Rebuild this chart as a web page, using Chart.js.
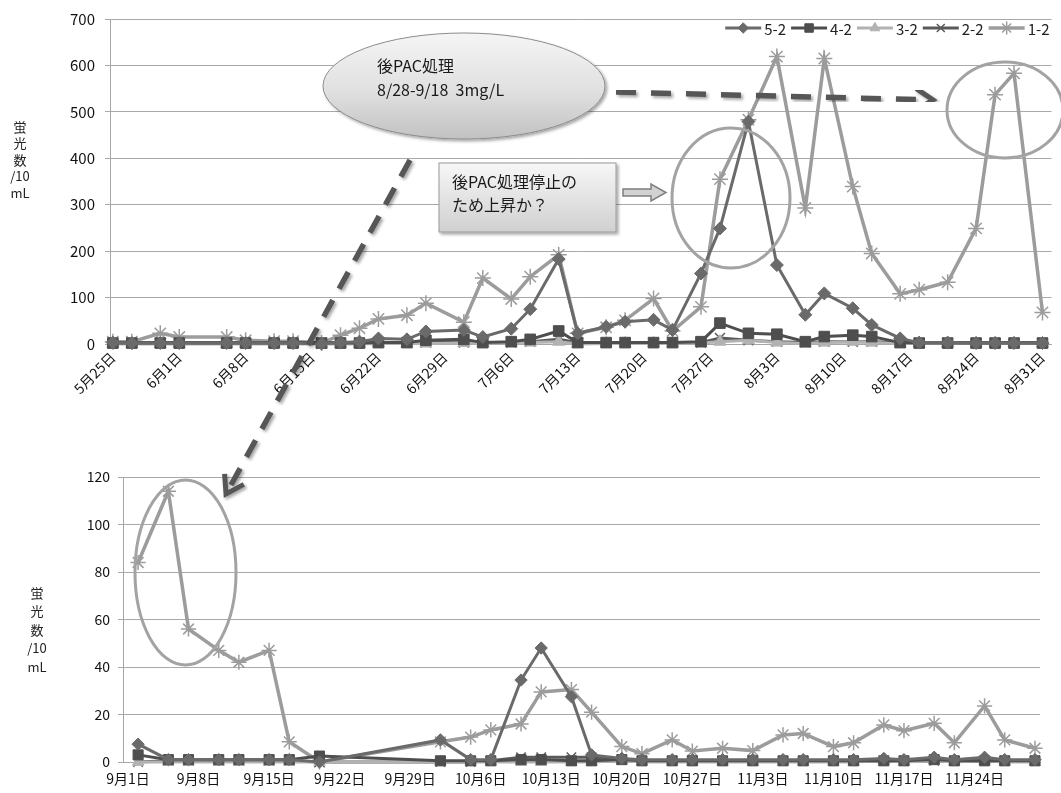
<!DOCTYPE html>
<html>
<head>
<meta charset="utf-8">
<script src="https://cdn.jsdelivr.net/npm/chart.js@4.4.1/dist/chart.umd.min.js"></script>
<style>
  html, body { margin: 0; padding: 0; background: #fff; }
  #page { position: relative; width: 1061px; height: 793px; overflow: hidden; }
  #summer { position: absolute; left: 0; top: 0; }
  #autumn { position: absolute; left: 0; top: 455px; }
  #notes { position: absolute; left: 0; top: 0; width: 1061px; height: 793px; pointer-events: none; }
  #notes text { font-family: "Noto Sans CJK JP", sans-serif; font-size: 16px; fill: #1a1a1a; white-space: pre; }
</style>
</head>
<body>
<div id="page">
  <canvas id="summer" width="1061" height="410"></canvas>
  <canvas id="autumn" width="1061" height="338"></canvas>

  <svg id="notes" viewBox="0 0 1061 793" xmlns="http://www.w3.org/2000/svg">
    <defs>
      <linearGradient id="bubbleFill" x1="0" y1="0" x2="0" y2="1">
        <stop offset="0" stop-color="#f5f5f5"/>
        <stop offset="0.55" stop-color="#e0e0e0"/>
        <stop offset="1" stop-color="#c2c2c2"/>
      </linearGradient>
      <linearGradient id="boxFill" x1="0" y1="0" x2="0" y2="1">
        <stop offset="0" stop-color="#f7f7f7"/>
        <stop offset="1" stop-color="#d0d0d0"/>
      </linearGradient>
      <filter id="shade" x="-20%" y="-20%" width="140%" height="140%">
        <feDropShadow dx="2" dy="2" stdDeviation="1.5" flood-color="#000" flood-opacity="0.35"/>
      </filter>
      <marker id="chevron" viewBox="0 0 26 26" refX="21" refY="13" markerWidth="26" markerHeight="26"
              markerUnits="userSpaceOnUse" orient="auto">
        <polyline points="4,2 21,13 4,24" fill="none" stroke="#575757" stroke-width="5"/>
      </marker>
    </defs>

    <!-- treatment period bubble -->
    <ellipse cx="464" cy="86" rx="141" ry="53" fill="url(#bubbleFill)" stroke="#8c8c8c" stroke-width="1" filter="url(#shade)"/>
    <text x="377" y="72">後PAC処理</text>
    <text x="377" y="96">8/28-9/18  3mg/L</text>

    <!-- dashed pointers from the bubble -->
    <line x1="616" y1="92" x2="933" y2="100" stroke="#575757" stroke-width="5.5" stroke-dasharray="20 15"
          marker-end="url(#chevron)" filter="url(#shade)"/>
    <line x1="410" y1="160" x2="226" y2="494" stroke="#575757" stroke-width="5.5" stroke-dasharray="19 13"
          marker-end="url(#chevron)" filter="url(#shade)"/>

    <!-- note box and block arrow -->
    <rect x="439" y="163" width="177" height="69" fill="url(#boxFill)" stroke="#9a9a9a" stroke-width="1" filter="url(#shade)"/>
    <text x="452" y="188">後PAC処理停止の</text>
    <text x="452" y="211">ため上昇か？</text>
    <polygon points="623,189 651,189 651,184 666,192.5 651,201 651,196 623,196"
             fill="#d2d2d2" stroke="#7f7f7f" stroke-width="1.5"/>

    <!-- highlight rings -->
    <ellipse cx="731" cy="198" rx="59" ry="70" fill="none" stroke="#a3a3a3" stroke-width="3"/>
    <ellipse cx="1005" cy="110" rx="58" ry="48" fill="none" stroke="#a3a3a3" stroke-width="3"/>
    <ellipse cx="185.5" cy="572.5" rx="50.5" ry="92.5" fill="none" stroke="#a3a3a3" stroke-width="3"/>
  </svg>
</div>

<script>
const YEAR = 2015;
const FONT = '"Noto Sans CJK JP", "Noto Sans", sans-serif';

const seriesNames = ['5-2', '4-2', '3-2', '2-2', '1-2'];

// May-August sampling
const summerDates = ['5/25','5/27','5/30','6/1','6/6','6/8','6/11','6/13','6/16','6/18',
                     '6/20','6/22','6/25','6/27','7/1','7/3','7/6','7/8','7/11','7/13',
                     '7/16','7/18','7/21','7/23','7/26','7/28','7/31','8/3','8/6','8/8',
                     '8/11','8/13','8/16','8/18','8/21','8/24','8/26','8/28','8/31'];
const summer52 = [3,2,2,2,2,2,2,2,1,3, 5,12,10,27,30,15,33,75,183,23,
                  37,48,52,30,152,249,479,170,63,109, 77,41,12,3,3,2,2,2,2];
const summer42 = [2,2,2,2,2,2,2,2,2,2, 2,3,3,8,10,3,5,10,28,3,
                  3,3,3,3,5,45,23,21,5,16, 19,16,3,2,2,2,2,2,2];
const summer32 = [0,0,0,0,0,0,0,0,0,0, 0,1,1,1,2,2,2,3,5,0,
                  1,1,1,1,2,5,8,3,1,3, 5,3,1,1,1,1,1,1,1];
const summer22 = [3,3,3,3,3,3,3,3,3,3, 3,3,3,3,3,3,3,5,10,3,
                  3,3,3,3,3,13,8,5,3,5, 5,5,3,3,3,3,3,3,3];
const summer12 = [5,5,23,15,15,8,6,6,2,19, 34,54,62,88,47,142,97,145,192,23,
                  36,51,98,28,80,355,483,619,293,615, 339,195,108,117,133,249,537,583,68];
const summerTicks = ['5/25','6/1','6/8','6/15','6/22','6/29','7/6','7/13',
                     '7/20','7/27','8/3','8/10','8/17','8/24','8/31'];

// September-November sampling
const autumnDates = ['9/2','9/5','9/7','9/10','9/12','9/15','9/17','9/20',
                     '10/2','10/5','10/7','10/10','10/12','10/15','10/17','10/20','10/22','10/25','10/27','10/30',
                     '11/2','11/5','11/7','11/10','11/12','11/15','11/17','11/20','11/22','11/25','11/27','11/30'];
const autumn52 = [7.5,1,1,1,1,1,1,0, 9.3,1,1,34.5,48,27.5,3,1.5,1,1,1,1,
                  1,1,1,1,1,1.5,1,2,1,2,1,1];
const autumn42 = [3,1,1,1,1,1,1,2.5, 0.5,0.5,0.5,1,1,0.5,0.5,1,0.5,0.5,0.5,0.5,
                  0.5,0.5,0.5,0.5,0.5,0.5,0.5,1,0.5,0.5,0.5,0.5];
const autumn32 = [0,0,0,0,0,0,0,0, 0,0,0,0,0,0,0,0.5,0,0,0,0,
                  0,0,0,0,0,0.5,0,0.5,0,0.5,0,0];
const autumn22 = [0,0.5,0.5,0.5,0.5,0.5,0.5,0, 0,0,0.5,2,2,2,2,1,0.5,0.5,0.5,0.5,
                  0.5,0.5,0.5,0.5,0.5,0.5,0.5,0.5,0.5,0.5,0.5,0.5];
const autumn12 = [84,114,56,47,42,47,8.5,0, 8.5,10.5,13.5,16,29.5,30.5,21,6.5,3.5,9.3,4.6,5.8,
                  4.8,11.4,12,6.5,8.1,15.6,13.2,16.3,8.1,23.6,9.3,5.8];
const autumnTicks = ['9/1','9/8','9/15','9/22','9/29','10/6','10/13','10/20',
                     '10/27','11/3','11/10','11/17','11/24'];

const yTitle = ['蛍', '光', '数', '/10', 'mL'];

// line and marker look for each series, same order as seriesNames
const seriesStyle = [
  { color: '#6a6a6a', fill: '#6a6a6a', marker: 'rectRot',  radius: 6.5, markerLine: 1,   line: 3 },
  { color: '#4e4e4e', fill: '#4e4e4e', marker: 'rect',     radius: 7.5, markerLine: 1,   line: 3 },
  { color: '#b2b2b2', fill: '#b2b2b2', marker: 'triangle', radius: 7,   markerLine: 1,   line: 3 },
  { color: '#5a5a5a', fill: '#5a5a5a', marker: 'crossRot', radius: 7,   markerLine: 1.5, line: 3 },
  { color: '#9c9c9c', fill: '#9c9c9c', marker: 'star',     radius: 8,   markerLine: 1.5, line: 3.5 }
];

function parseMD(md) { const [m, d] = md.split('/').map(Number); return Date.UTC(YEAR, m - 1, d); }
function dayOf(md, base) { return Math.round((parseMD(md) - parseMD(base)) / 86400000); }
function labelOf(day, base) {
  const t = new Date(parseMD(base) + Math.round(day) * 86400000);
  return (t.getUTCMonth() + 1) + '月' + t.getUTCDate() + '日';
}

// stacked vertical caption beside the value axis
const stackedTitle = {
  id: 'stackedTitle',
  afterDraw(chart, args, o) {
    if (!o || !o.lines) return;
    const ctx = chart.ctx;
    ctx.save();
    ctx.font = o.size + 'px ' + FONT;
    ctx.fillStyle = '#222';
    ctx.textAlign = 'center';
    ctx.textBaseline = 'middle';
    o.lines.forEach((t, i) => ctx.fillText(t, o.x, o.y + i * o.step));
    ctx.restore();
  }
};

// series key drawn over the top-right corner of the plot
const seriesKey = {
  id: 'seriesKey',
  afterDraw(chart, args, o) {
    if (!o || !o.show) return;
    const ctx = chart.ctx;
    const sets = chart.data.datasets;
    const lineLen = 36, gap = 3, itemGap = 5;
    ctx.save();
    ctx.font = '15px ' + FONT;
    const widths = sets.map(ds => lineLen + gap + ctx.measureText(ds.label).width);
    const total = widths.reduce((a, b) => a + b, 0) + itemGap * (sets.length - 1);
    let x = chart.chartArea.right - o.right - total;
    const y = chart.chartArea.top + o.top;
    sets.forEach((ds, i) => {
      ctx.strokeStyle = ds.borderColor;
      ctx.lineWidth = ds.borderWidth;
      ctx.beginPath(); ctx.moveTo(x, y); ctx.lineTo(x + lineLen, y); ctx.stroke();
      ctx.fillStyle = ds.pointBackgroundColor;
      ctx.strokeStyle = ds.pointBorderColor;
      ctx.lineWidth = ds.pointBorderWidth;
      Chart.helpers.drawPoint(ctx, { pointStyle: ds.pointStyle, radius: ds.pointRadius * 0.8, borderWidth: ds.pointBorderWidth, rotation: 0 }, x + lineLen / 2, y);
      ctx.fillStyle = '#222';
      ctx.textAlign = 'left';
      ctx.textBaseline = 'middle';
      ctx.fillText(ds.label, x + lineLen + gap, y + 1);
      x += widths[i] + itemGap;
    });
    ctx.restore();
  }
};

function buildChart(id, cfg) {
  const base = cfg.ticks[0];
  const tickDays = cfg.ticks.map(t => dayOf(t, base));
  const datasets = cfg.series.map((vals, i) => {
    const st = seriesStyle[i];
    return {
      label: seriesNames[i],
      data: vals.map((v, k) => ({ x: dayOf(cfg.dates[k], base), y: v })),
      borderColor: st.color,
      backgroundColor: st.color,
      borderWidth: st.line,
      pointStyle: st.marker,
      pointRadius: st.radius * cfg.markerScale,
      pointBackgroundColor: st.fill,
      pointBorderColor: st.color,
      pointBorderWidth: st.markerLine,
      tension: 0,
      clip: false
    };
  });

  return new Chart(document.getElementById(id), {
    type: 'line',
    data: { datasets },
    plugins: [stackedTitle, seriesKey],
    options: {
      responsive: false,
      animation: false,
      events: [],
      layout: { padding: cfg.padding },
      plugins: {
        legend: { display: false },
        tooltip: { enabled: false },
        stackedTitle: cfg.title,
        seriesKey: cfg.key
      },
      scales: {
        x: {
          type: 'linear',
          min: cfg.xMin,
          max: cfg.xMax,
          afterBuildTicks: s => { s.ticks = tickDays.map(v => ({ value: v })); },
          ticks: {
            autoSkip: false,
            minRotation: cfg.rotation,
            maxRotation: cfg.rotation,
            padding: cfg.xPad,
            color: '#111',
            font: { family: FONT, size: cfg.xFont },
            callback: v => labelOf(v, base)
          },
          grid: { display: false, drawTicks: false },
          border: { color: '#a6a6a6', width: 1 },
          afterFit: s => { s.height = cfg.xHeight; s.paddingLeft = 0; s.paddingRight = 0; }
        },
        y: {
          min: 0,
          max: cfg.yMax,
          ticks: {
            stepSize: cfg.yStep,
            padding: cfg.yPad,
            color: '#111',
            font: { family: FONT, size: cfg.yFont }
          },
          grid: { color: '#a9a9a9', lineWidth: 1, drawTicks: true, tickLength: 5 },
          border: { color: '#a6a6a6', width: 1 },
          afterFit: s => { s.width = cfg.yWidth; }
        }
      }
    }
  });
}

buildChart('summer', {
  dates: summerDates,
  series: [summer52, summer42, summer32, summer22, summer12],
  ticks: summerTicks,
  xMin: -0.3, xMax: 98.95,
  rotation: 45, xPad: 5, xFont: 14, xHeight: 66,
  yMax: 700, yStep: 100, yPad: 10, yFont: 15, yWidth: 110,
  padding: { top: 18, right: 2, left: 0, bottom: 0 },
  markerScale: 1,
  title: { lines: yTitle, x: 20, y: 127, step: 16.5, size: 13 },
  key: { show: true, right: 2, top: 9 }
});

buildChart('autumn', {
  dates: autumnDates,
  series: [autumn52, autumn42, autumn32, autumn22, autumn12],
  ticks: autumnTicks,
  xMin: -0.5, xMax: 90.5,
  rotation: 0, xPad: 8, xFont: 14, xHeight: 31,
  yMax: 120, yStep: 20, yPad: 8, yFont: 14, yWidth: 123,
  padding: { top: 22, right: 21, left: 0, bottom: 0 },
  markerScale: 0.95,
  title: { lines: yTitle, x: 37, y: 138, step: 18.5, size: 13 },
  key: { show: false }
});
</script>
</body>
</html>
